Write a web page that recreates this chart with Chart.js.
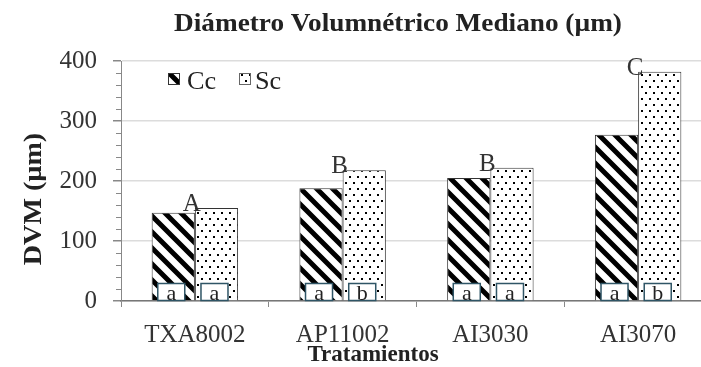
<!DOCTYPE html>
<html>
<head>
<meta charset="utf-8">
<script src="https://cdn.jsdelivr.net/npm/chart.js@4.4.1/dist/chart.umd.min.js"></script>
<style>
  html, body { margin: 0; padding: 0; background: #fff; overflow: hidden; }
  #wrap { width: 712px; height: 367px; }
</style>
</head>
<body>
<div id="wrap"><canvas id="chart" width="712" height="367"></canvas></div>
<script>
// Data
const categories = ["TXA8002", "AP11002", "AI3030", "AI3070"];
const ccValues = [147, 188, 205, 277];
const scValues = [155, 218, 222, 382];
const groupLetters = ["A", "B", "B", "C"];
const ccLetters = ["a", "a", "a", "a"];
const scLetters = ["a", "b", "a", "b"];
const yTicks = [0, 100, 200, 300, 400];

const SERIF = "'Liberation Serif', 'Times New Roman', serif";

// hatch patterns
function stripePattern(ctx) {
  const c = document.createElement("canvas");
  c.width = 16; c.height = 16;
  const g = c.getContext("2d");
  g.fillStyle = "#fff";
  g.fillRect(0, 0, 16, 16);
  g.strokeStyle = "#000";
  g.lineWidth = 5;
  g.beginPath();
  g.moveTo(-4, -4); g.lineTo(20, 20);
  g.moveTo(-20, -4); g.lineTo(4, 20);
  g.moveTo(12, -4); g.lineTo(36, 20);
  g.stroke();
  return ctx.createPattern(c, "repeat");
}
function dotPattern(ctx) {
  const c = document.createElement("canvas");
  c.width = 8; c.height = 12;
  const g = c.getContext("2d");
  g.fillStyle = "#fff";
  g.fillRect(0, 0, 8, 12);
  g.fillStyle = "#000";
  g.fillRect(1, 2, 2, 2);
  g.fillRect(5, 8, 2, 2);
  return ctx.createPattern(c, "repeat");
}

const canvas = document.getElementById("chart");
const ctx0 = canvas.getContext("2d");
const ccFill = stripePattern(ctx0);
const scFill = dotPattern(ctx0);

// text slightly wider than the font, like the source image
function wideText(ctx, txt, x, y, sx) {
  ctx.save();
  ctx.translate(x, y);
  ctx.scale(sx, 1);
  ctx.fillText(txt, 0, 0);
  ctx.restore();
}

// extra drawing: title, axis titles, minor ticks, letters, legend
const extras = {
  id: "extras",
  afterDatasetsDraw(chart) {
    const ctx = chart.ctx;
    const y = chart.scales.y;
    const x = chart.scales.x;
    ctx.save();

    // minor ticks on y axis
    ctx.strokeStyle = "#888";
    ctx.lineWidth = 1;
    for (let v = 20; v < 400; v += 20) {
      if (v % 100 === 0) continue;
      const py = Math.round(y.getPixelForValue(v)) + 0.5;
      ctx.beginPath();
      ctx.moveTo(x.left - 5, py);
      ctx.lineTo(x.left, py);
      ctx.stroke();
    }

    // boxed letters at bar bottoms
    ctx.font = "22px " + SERIF;
    ctx.textAlign = "center";
    ctx.textBaseline = "alphabetic";
    [[0, ccLetters], [1, scLetters]].forEach(([di, letters]) => {
      const meta = chart.getDatasetMeta(di);
      meta.data.forEach((bar, i) => {
        const cx = bar.x - 2;
        const bw = 27, bh = 17;
        const by = y.getPixelForValue(0) - bh - 0.5;
        ctx.fillStyle = "#fff";
        ctx.fillRect(cx - bw / 2, by, bw, bh);
        ctx.strokeStyle = "#2f5566";
        ctx.lineWidth = 1.5;
        ctx.strokeRect(cx - bw / 2, by, bw, bh);
        ctx.fillStyle = "#222";
        ctx.fillText(letters[i], cx, by + bh - 1);
      });
    });

    // group letters
    ctx.font = "25px " + SERIF;
    ctx.fillStyle = "#333";
    const ccMeta = chart.getDatasetMeta(0);
    const scMeta = chart.getDatasetMeta(1);
    groupLetters.forEach((l, i) => {
      const jx = (ccMeta.data[i].x + ccMeta.data[i].width / 2);
      const top = scMeta.data[i].y;
      ctx.fillText(l, jx - 3, top + 3);
    });

    // legend
    ctx.textAlign = "left";
    ctx.font = "25px " + SERIF;
    ctx.lineWidth = 1;
    ctx.strokeStyle = "#333";
    ctx.fillStyle = ccFill;
    ctx.fillRect(168, 73, 11, 11);
    ctx.strokeRect(168.5, 73.5, 11, 11);
    ctx.fillStyle = scFill;
    ctx.fillRect(239, 73, 11, 11);
    ctx.strokeStyle = "#666";
    ctx.strokeRect(239.5, 73.5, 11, 11);
    ctx.fillStyle = "#222";
    wideText(ctx, "Cc", 187, 89, 1.05);
    wideText(ctx, "Sc", 255, 89, 1.05);

    // title
    ctx.textAlign = "center";
    ctx.font = "bold 25px " + SERIF;
    ctx.fillStyle = "#222";
    wideText(ctx, "Diámetro Volumnétrico Mediano (µm)", 398, 31, 1.09);

    // x axis title
    ctx.font = "bold 23px " + SERIF;
    wideText(ctx, "Tratamientos", 373, 361, 1.0);

    // y axis title
    ctx.font = "bold 26px " + SERIF;
    ctx.translate(41, 199);
    ctx.rotate(-Math.PI / 2);
    wideText(ctx, "DVM (µm)", 0, 0, 1.08);
    ctx.restore();
  }
};

new Chart(canvas, {
  type: "bar",
  data: {
    labels: categories,
    datasets: [
      { label: "Cc", data: ccValues, backgroundColor: ccFill, borderColor: "#333", borderWidth: 1 },
      { label: "Sc", data: scValues, backgroundColor: scFill, borderColor: "#333", borderWidth: 1 }
    ]
  },
  options: {
    responsive: false,
    animation: false,
    layout: { padding: { top: 61, left: 0, right: 0, bottom: 0 } },
    datasets: { bar: { barPercentage: 1, categoryPercentage: 0.585 } },
    plugins: { legend: { display: false }, tooltip: { enabled: false }, title: { display: false } },
    scales: {
      x: {
        grid: { display: true, offset: true, drawOnChartArea: false, tickLength: 6, color: "#888" },
        border: { color: "#777", width: 1.5 },
        ticks: { font: { family: SERIF, size: 25 }, color: "#333", padding: 13 },
        afterFit: s => { s.height = 66; }
      },
      y: {
        min: 0, max: 400,
        afterBuildTicks: s => { s.ticks = yTicks.map(v => ({ value: v })); },
        grid: { color: "#dcdcdc", tickColor: "#888", tickLength: 8, lineWidth: 1.5 },
        border: { color: "#888", width: 1 },
        ticks: { font: { family: SERIF, size: 25 }, color: "#333", padding: 16 },
        afterFit: s => { s.width = 121; }
      }
    }
  },
  plugins: [extras]
});
</script>
</body>
</html>
